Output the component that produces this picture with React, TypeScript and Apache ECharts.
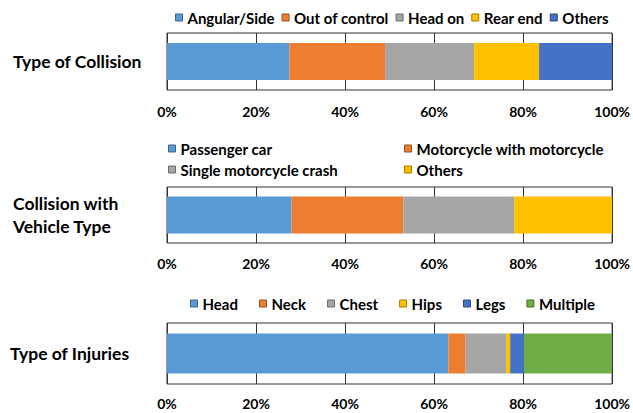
import { useEffect, useRef } from "react";
import * as echarts from "echarts";

const collisionTypes = ["Angular/Side", "Out of control", "Head on", "Rear end", "Others"];
const collisionValues = [27.5, 21.5, 20.0, 14.6, 16.4];
const vehicleTypes = ["Passenger car", "Motorcycle with motorcycle", "Single motorcycle crash", "Others"];
const vehicleValues = [28.0, 25.1, 24.9, 22.0];
const injuryTypes = ["Head", "Neck", "Chest", "Hips", "Legs", "Multiple"];
const injuryValues = [63.2, 3.9, 9.1, 0.9, 3.1, 19.8];
const rowLabels = ["Type of Collision", "Collision with\nVehicle Type", "Type of Injuries"];

const collisionColors = ["#5B9BD5", "#ED7D31", "#A5A5A5", "#FFC000", "#4472C4"];
const vehicleColors = ["#5B9BD5", "#ED7D31", "#A5A5A5", "#FFC000"];
const injuryColors = ["#5B9BD5", "#ED7D31", "#A5A5A5", "#FFC000", "#4472C4", "#70AD47"];

const FONT = "Lato";

function darker(hex: string) {
  const n = parseInt(hex.slice(1), 16);
  const r = Math.round(((n >> 16) & 255) * 0.65);
  const g = Math.round(((n >> 8) & 255) * 0.65);
  const b = Math.round((n & 255) * 0.65);
  return `rgb(${r},${g},${b})`;
}

export default function App() {
  const ref = useRef<HTMLDivElement>(null);
  useEffect(() => {
    document.body.style.margin = "0";
    const chart = echarts.init(ref.current!, undefined, { renderer: "svg" });

    const grids = [
      { left: 167, width: 446, top: 33, height: 57 },
      { left: 167, width: 446, top: 187, height: 56 },
      { left: 167, width: 446, top: 323, height: 61 },
    ];
    const labelMargins = [154, 154, 157];
    const xMargins = [14, 13, 12];
    const barWidths = [37, 37, 40];

    const groups = [
      { names: collisionTypes, values: collisionValues, colors: collisionColors },
      { names: vehicleTypes, values: vehicleValues, colors: vehicleColors },
      { names: injuryTypes, values: injuryValues, colors: injuryColors },
    ];

    const series: any[] = [];
    groups.forEach((g, gi) => {
      g.names.forEach((n, i) => {
        series.push({
          id: `s${gi}_${i}`,
          name: n,
          type: "bar",
          stack: `stack${gi}`,
          xAxisIndex: gi,
          yAxisIndex: gi,
          barWidth: barWidths[gi],
          itemStyle: { color: g.colors[i] },
          data: [g.values[i]],
        });
      });
    });

    const legendText = { fontFamily: FONT, fontWeight: "bold", fontSize: 15, color: "#000" };
    const legendBase = {
      icon: "rect",
      itemWidth: 7,
      itemHeight: 7,
      textStyle: legendText,
      selectedMode: false,
      padding: 0,
    };
    const mkData = (names: string[], colors: string[], idx: number[]) =>
      idx.map((i) => ({
        name: names[i],
        itemStyle: { color: colors[i], borderColor: darker(colors[i]), borderWidth: 1 },
      }));

    const option: any = {
      animation: false,
      grid: grids.map((g) => ({ ...g, show: true, borderColor: "#333", borderWidth: 1 })),
      legend: [
        {
          ...legendBase,
          left: 175,
          top: 10,
          itemGap: 7,
          data: mkData(collisionTypes, collisionColors, [0, 1, 2, 3, 4]),
        },
        {
          ...legendBase,
          orient: "vertical",
          left: 168,
          top: 141,
          itemGap: 6,
          data: mkData(vehicleTypes, vehicleColors, [0, 2]),
        },
        {
          ...legendBase,
          orient: "vertical",
          left: 404,
          top: 141,
          itemGap: 6,
          data: mkData(vehicleTypes, vehicleColors, [1, 3]),
        },
        {
          ...legendBase,
          left: 190,
          top: 296,
          itemGap: 21,
          data: mkData(injuryTypes, injuryColors, [0, 1, 2, 3, 4, 5]),
        },
      ],
      xAxis: grids.map((_, gi) => ({
        type: "value",
        gridIndex: gi,
        min: 0,
        max: 100,
        interval: 20,
        axisLine: { show: false },
        axisTick: { show: false },
        splitLine: { show: true, lineStyle: { color: "#333", width: 1 } },
        axisLabel: {
          formatter: "{value}%",
          fontFamily: FONT,
          fontWeight: "bold",
          fontSize: 14,
          color: "#000",
          margin: xMargins[gi],
        },
      })),
      yAxis: grids.map((_, gi) => ({
        type: "category",
        gridIndex: gi,
        data: [rowLabels[gi]],
        axisLine: { show: false },
        axisTick: { show: false },
        axisLabel: {
          align: "left",
          margin: labelMargins[gi],
          fontFamily: FONT,
          fontWeight: "bold",
          fontSize: 17.5,
          lineHeight: 23,
          color: "#000",
        },
      })),
      series,
    };
    chart.setOption(option);
    return () => chart.dispose();
  }, []);
  return <div ref={ref} style={{ width: 633, height: 413 }} />;
}
